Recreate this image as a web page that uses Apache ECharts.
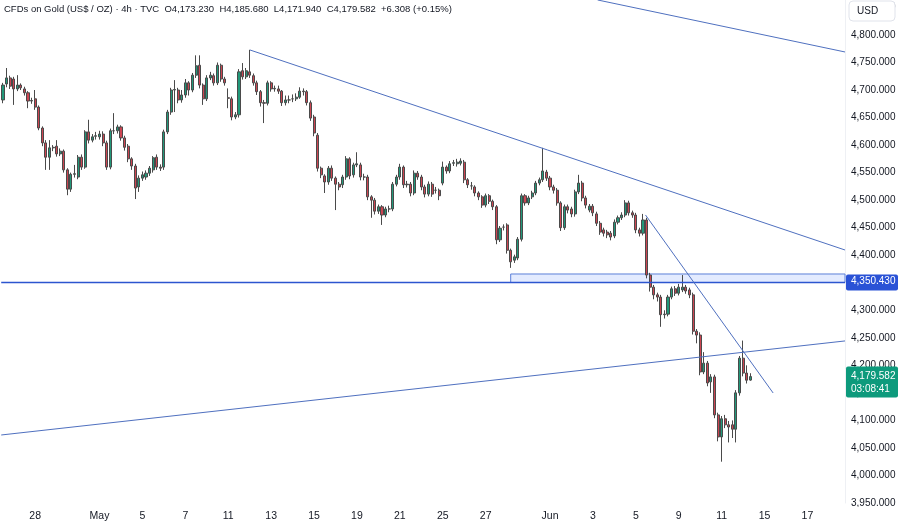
<!DOCTYPE html>
<html>
<head>
<meta charset="utf-8">
<script src="https://cdn.jsdelivr.net/npm/echarts@6/dist/echarts.min.js"></script>
<style>
html, body { margin: 0; padding: 0; background: #fff; }
#chart { width: 900px; height: 526px; }
</style>
</head>
<body>
<div id="chart"></div>
<script>
// 4h candles, Apr 24 -> Jun 12 (index = bar slot on the time scale)
const opens = [
  4682,4711,4722,4720,4702,4709,4702,4695,4680,4684,
  4669,4631,4604,4578,4595,4598,4584,4589,4555,4520,
  4547,4542,4578,4560,4624,4609,4616,4615,4620,4604,
  4560,4626,4626,4633,4613,4598,4575,4562,4524,4540,
  4542,4549,4555,4578,4560,4560,4624,4660,4700,4700,
  4682,4691,4713,4700,4727,4745,4709,4684,4722,4726,
  4713,4745,4720,4686,4684,4651,4655,4735,4724,4733,
  4726,4713,4697,4677,4676,4713,4702,4702,4698,4677,
  4682,4684,4684,4687,4698,4697,4677,4651,4618,4558,
  4544,4533,4558,4540,4529,4528,4542,4575,4546,4564,
  4564,4542,4542,4506,4500,4480,4488,4473,4484,4484,
  4529,4542,4560,4528,4529,4513,4549,4542,4524,4511,
  4529,4518,4518,4531,4560,4553,4567,4566,4567,4569,
  4537,4526,4524,4513,4506,4491,4508,4498,4488,4428,
  4451,4455,4409,4391,4395,4429,4508,4495,4506,4513,
  4531,4537,4551,4540,4524,4518,4495,4450,4488,4484,
  4475,4515,4531,4504,4482,4489,4475,4458,4446,4442,
  4440,4435,4460,4468,4473,4495,4477,4473,4446,4440,
  4464,4364,4342,4328,4324,4292,4293,4324,4339,4331,
  4337,4342,4337,4328,4262,4255,4188,4204,4170,4179,
  4110,4070,4103,4092,4092,4084,4150,4213,4186,4173.23
];
const closes = [
  4709,4722,4707,4702,4709,4704,4695,4680,4681,4669,
  4631,4604,4578,4595,4596,4584,4589,4555,4520,4547,
  4548,4578,4560,4624,4609,4615,4617,4620,4604,4560,
  4626,4626,4633,4613,4596,4575,4562,4522,4540,4546,
  4549,4558,4577,4560,4558,4624,4660,4700,4701,4682,
  4691,4713,4700,4727,4744,4709,4684,4722,4727,4713,
  4745,4720,4713,4685,4651,4655,4733,4724,4735,4727,
  4713,4697,4677,4676,4713,4702,4703,4698,4677,4682,
  4682,4684,4687,4698,4697,4677,4649,4622,4558,4546,
  4533,4558,4540,4529,4524,4542,4575,4544,4564,4566,
  4542,4542,4506,4500,4480,4488,4473,4484,4484,4529,
  4542,4560,4528,4529,4513,4549,4542,4524,4511,4529,
  4511,4518,4508,4560,4553,4566,4568,4569,4571,4537,
  4528,4526,4513,4506,4491,4508,4498,4488,4428,4449,
  4451,4409,4388,4397,4429,4508,4495,4504,4513,4531,
  4537,4553,4540,4524,4518,4495,4450,4488,4482,4475,
  4515,4531,4504,4491,4489,4477,4458,4442,4440,4437,
  4433,4460,4468,4473,4495,4477,4473,4446,4440,4464,
  4364,4342,4328,4324,4292,4293,4324,4339,4331,4342,
  4342,4335,4328,4262,4255,4188,4204,4168,4179,4110,
  4070,4103,4092,4088,4084,4150,4213,4186,4173,4179.582
];
const lows = [
  4676,4705,4702,4673,4698,4700,4690,4667,4675,4664,
  4627,4598,4555,4555,4589,4579,4580,4550,4509,4515,
  4541,4538,4555,4557,4603,4605,4610,4610,4598,4555,
  4556,4620,4621,4608,4590,4569,4555,4502,4515,4535,
  4537,4544,4550,4555,4553,4555,4620,4655,4660,4676,
  4677,4686,4690,4696,4722,4703,4673,4680,4718,4708,
  4709,4715,4708,4667,4645,4647,4650,4719,4720,4722,
  4708,4691,4670,4640,4672,4697,4697,4693,4671,4672,
  4676,4678,4680,4684,4690,4672,4644,4616,4552,4540,
  4513,4528,4535,4482,4518,4522,4537,4538,4541,4560,
  4536,4536,4500,4468,4474,4475,4455,4469,4478,4480,
  4525,4537,4522,4523,4507,4509,4537,4518,4505,4507,
  4506,4512,4500,4527,4548,4549,4562,4561,4563,4531,
  4522,4519,4507,4500,4486,4487,4493,4482,4420,4424,
  4445,4403,4377,4386,4391,4425,4490,4491,4502,4509,
  4527,4533,4535,4518,4512,4490,4444,4446,4476,4469,
  4470,4511,4498,4485,4478,4471,4453,4437,4434,4431,
  4427,4431,4456,4464,4469,4472,4468,4440,4434,4436,
  4358,4334,4320,4316,4270,4285,4289,4320,4326,4327,
  4333,4330,4322,4256,4240,4182,4184,4162,4150,4104,
  4062,4025,4086,4060,4068,4060,4145,4180,4167,4171.94
];
const highs = [
  4713,4740,4726,4724,4727,4712,4706,4698,4686,4700,
  4672,4634,4609,4609,4600,4609,4594,4592,4558,4550,
  4564,4582,4583,4627,4646,4620,4624,4626,4625,4608,
  4630,4658,4637,4636,4617,4602,4578,4566,4545,4552,
  4554,4562,4580,4583,4565,4628,4664,4704,4718,4704,
  4700,4720,4716,4731,4763,4763,4712,4727,4733,4730,
  4750,4748,4724,4703,4688,4660,4738,4749,4740,4773,
  4730,4717,4700,4682,4717,4716,4708,4708,4700,4690,
  4690,4692,4694,4705,4703,4700,4681,4655,4622,4561,
  4547,4562,4563,4543,4533,4546,4580,4578,4568,4587,
  4568,4548,4546,4509,4504,4492,4491,4488,4490,4533,
  4546,4566,4563,4535,4533,4554,4553,4546,4528,4534,
  4533,4524,4521,4570,4563,4571,4573,4575,4576,4573,
  4540,4533,4527,4516,4509,4512,4511,4501,4491,4453,
  4456,4458,4412,4401,4433,4512,4511,4508,4517,4535,
  4541,4595,4555,4544,4528,4522,4498,4492,4492,4488,
  4519,4546,4535,4508,4493,4493,4479,4462,4450,4446,
  4444,4465,4472,4478,4500,4499,4481,4477,4450,4475,
  4468,4368,4346,4332,4328,4300,4328,4343,4344,4348,
  4364,4346,4341,4332,4266,4260,4224,4208,4184,4183,
  4114,4108,4110,4099,4100,4155,4217,4245,4200,4185.68
];

// time scale: bar slots (incl. empty future slots) and day labels
const slotCount = 236;
const dayMarks  = [9, 27, 39, 51, 63, 75, 87, 99, 111, 123, 135, 153, 165, 177, 189, 201, 213, 225];
const dayLabels = ['28', 'May', '5', '7', '11', '13', '15', '19', '21', '25', '27', 'Jun', '3', '5', '9', '11', '15', '17'];

// price scale
const priceMin = 3950;
const priceMax = 4863.5;
const priceStep = 50;

// drawings: [slot, price] endpoints
const trendLines = [
  [[166.3, 4863.6], [235.5, 4769.1]],
  [[69.05, 4772.8], [235.5, 4409.5]],
  [[179.7, 4473.1], [215.4, 4149.8]],
  [[-0.5, 4073.5], [235.5, 4244.3]]
];
const keyLevel = 4350.43;
const zoneTop = 4365.9;
const zoneStart = 142;
const lastPrice = 4179.582;
const countdown = '03:08:41';
const header = 'CFDs on Gold (US$ / OZ) · 4h · TVC  O4,173.230  H4,185.680  L4,171.940  C4,179.582  +6.308 (+0.15%)';

const FONT = '"Liberation Sans", Arial, sans-serif';
const fmt = v => v.toLocaleString('en-US', {minimumFractionDigits: 3, maximumFractionDigits: 3});

const categories = [];
for (let i = 0; i < slotCount; i++) categories.push('');
dayMarks.forEach((idx, k) => { categories[idx] = dayLabels[k]; });

const candles = opens.map((o, i) => [o, closes[i], lows[i], highs[i]]);

const chart = echarts.init(document.getElementById('chart'));

const lineSeries = trendLines.map(seg => ({
  type: 'line',
  xAxisIndex: 1,
  data: seg,
  symbol: 'none',
  silent: true,
  z: 5,
  lineStyle: { color: '#4f70bf', width: 1 }
}));

chart.setOption({
  animation: false,
  backgroundColor: '#ffffff',
  grid: { left: 0, right: 55, top: 0, bottom: 23 },
  xAxis: [
    {
      type: 'category',
      data: categories,
      boundaryGap: true,
      axisLine: { show: false },
      axisTick: { show: false },
      splitLine: { show: false },
      axisLabel: { interval: 0, color: '#131722', fontSize: 10.5, fontFamily: FONT, margin: 8 }
    },
    { type: 'value', min: -0.5, max: slotCount - 0.5, show: false }
  ],
  yAxis: {
    type: 'value',
    position: 'right',
    min: priceMin,
    max: priceMax,
    interval: priceStep,
    axisLine: { show: true, onZero: false, lineStyle: { color: '#eef0f4' } },
    axisTick: { show: false },
    splitLine: { show: false },
    axisLabel: {
      color: '#131722', fontSize: 10, fontFamily: FONT, margin: 6,
      showMaxLabel: false,
      formatter: v => fmt(v)
    }
  },
  series: [
    {
      type: 'candlestick',
      data: candles,
      barWidth: '72%',
      itemStyle: {
        color: '#22987a',
        color0: '#cc4552',
        borderColor: '#4a4a4a',
        borderColor0: '#4a4a4a',
        borderWidth: 1
      }
    },
    {
      type: 'line',
      xAxisIndex: 1,
      data: [[-0.5, keyLevel], [slotCount - 0.5, keyLevel]],
      symbol: 'none',
      silent: true,
      z: 5,
      lineStyle: { color: '#2c55cf', width: 1.5 },
      markArea: {
        silent: true,
        itemStyle: { color: 'rgba(41,98,255,0.13)', borderColor: '#5b7fd9', borderWidth: 1 },
        data: [[{ coord: [zoneStart, zoneTop] }, { coord: [slotCount - 0.5, keyLevel] }]]
      }
    },
    ...lineSeries
  ]
});

const yKey = chart.convertToPixel({ yAxisIndex: 0 }, keyLevel);
const yLast = chart.convertToPixel({ yAxisIndex: 0 }, lastPrice);

chart.setOption({
  graphic: [
    {
      type: 'text', left: 4, top: 4,
      style: { text: header, fill: '#131722', font: '9.5px ' + FONT }
    },
    {
      type: 'rect', shape: { x: 849, y: 1, width: 46, height: 20, r: 4 },
      style: { fill: '#ffffff', stroke: '#e0e3eb', lineWidth: 1 }, z: 10
    },
    {
      type: 'text', x: 857, y: 6, z: 11,
      style: { text: 'USD', fill: '#131722', font: '10px ' + FONT }
    },
    {
      type: 'rect', shape: { x: 846, y: 507, width: 54, height: 19 },
      style: { fill: '#ffffff' }, z: 10
    },
    {
      type: 'rect', shape: { x: 846, y: yLast - 10, width: 52, height: 31, r: 2 },
      style: { fill: '#0d9a7c' }, z: 10
    },
    {
      type: 'text', x: 851, y: yLast - 7, z: 11,
      style: { text: fmt(lastPrice) + '\n' + countdown, fill: '#ffffff', font: '10px ' + FONT, lineHeight: 13 }
    },
    {
      type: 'rect', shape: { x: 846, y: yKey - 8, width: 52, height: 16, r: 2 },
      style: { fill: '#2a52d6' }, z: 10
    },
    {
      type: 'text', x: 851, y: yKey - 6, z: 11,
      style: { text: fmt(keyLevel), fill: '#ffffff', font: '10px ' + FONT }
    }
  ]
});
</script>
</body>
</html>
